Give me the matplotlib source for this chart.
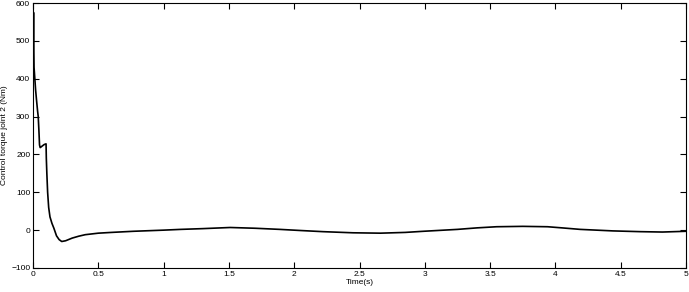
import numpy as np
import matplotlib
matplotlib.use("Agg")
import matplotlib.pyplot as plt

plt.rcParams['font.family'] = ['Liberation Sans Narrow', 'Liberation Sans', 'DejaVu Sans']

# time (s) and control torque of joint 2 (Nm)
time_s = [0.0, 0.004, 0.006, 0.008, 0.011, 0.015, 0.02, 0.028, 0.035, 0.04,
          0.045, 0.05, 0.055, 0.07, 0.085, 0.1, 0.102, 0.106, 0.112, 0.12,
          0.13, 0.145, 0.16, 0.18, 0.2, 0.22, 0.25, 0.3, 0.35, 0.4,
          0.5, 0.6, 0.77, 1.0, 1.13, 1.3, 1.51, 1.7, 1.89, 2.05,
          2.22, 2.45, 2.66, 2.85, 2.99, 3.25, 3.4, 3.55, 3.75, 3.94,
          4.05, 4.19, 4.44, 4.65, 4.82, 5.0]
torque = [420, 575, 490, 430, 415, 395, 370, 340, 315, 300,
          265, 225, 218, 222, 226, 228, 190, 150, 100, 60,
          35, 18, 5, -15, -25, -30, -28, -21, -16, -12,
          -8, -6, -3, 0, 2, 4, 7, 5, 2, -1,
          -4, -7, -8, -6, -3, 2, 6, 9, 10, 9,
          6, 2, -2, -4, -5, -3]

xticks = [0, 0.5, 1, 1.5, 2, 2.5, 3, 3.5, 4, 4.5, 5]
xticklabels = ['0', '0.5', '1', '1.5', '2', '2.5', '3', '3.5', '4', '4.5', '5']
yticks = [-100, 0, 100, 200, 300, 400, 500, 600]

fig = plt.figure(figsize=(6.89, 2.92), dpi=100)
ax = fig.add_axes([33/689, 24/292, 653/689, 265/292])

ax.plot(time_s, torque, color='black', lw=1.2)

ax.set_xlim(0, 5)
ax.set_ylim(-100, 600)
ax.set_xticks(xticks)
ax.set_xticklabels(xticklabels)
ax.set_yticks(yticks)
ax.tick_params(direction='in', length=4, width=0.8, labelsize=6,
               top=True, right=True, pad=2, colors='black')
for s in ax.spines.values():
    s.set_linewidth(0.8)

ax.set_xlabel('Time(s)', fontsize=6, labelpad=1)
ax.set_ylabel('Control torque joint 2 (Nm)', fontsize=6, labelpad=2)

fig.savefig('out.png', dpi=100)
